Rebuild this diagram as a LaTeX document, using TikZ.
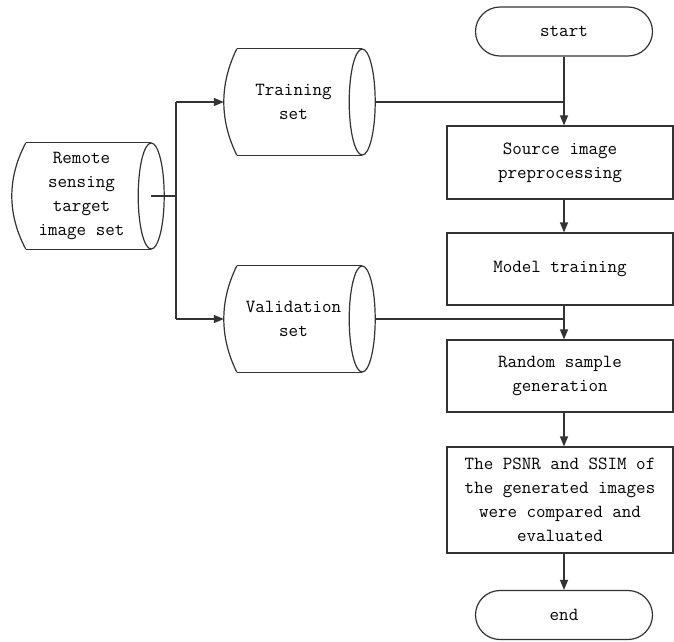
\documentclass[tikz,border=0pt]{standalone}
\usepackage{fontspec}
\usetikzlibrary{arrows.meta,calc}

\tikzset{
  line/.style={draw=black!80, line width=1.2pt},
  arrowline/.style={line, -{Triangle[length=10pt,width=8pt]}},
  stepbox/.style={line, rectangle, minimum width=226, minimum height=72,
    align=center, inner sep=0pt},
  terminal/.style={line, rectangle, rounded corners=24.5pt,
    minimum width=177, minimum height=49, inner sep=0pt},
  storebody/.style={rectangle, inner sep=0pt, minimum width=125, minimum height=106},
  labeltext/.style={align=center, inner sep=0pt},
}

% Direct-access storage symbol drawn around a rectangular body node
\newcommand\drawstorage[2]{% #1 node name, #2 bulge of the left side
  \draw[line] (#1.north west) -- (#1.north east);
  \draw[line] (#1.south west) -- (#1.south east);
  \draw[line] (#1.north west) .. controls ($(#1.north west)+(-#2*1.333,35.3)$)
    and ($(#1.south west)+(-#2*1.333,-35.3)$) .. (#1.south west);
  \draw[line] (#1.east) ellipse [x radius=13, y radius=53];
}

\begin{document}
\begin{tikzpicture}[x=1pt, y=-1pt,
  every node/.append style={font=\ttfamily\fontsize{18.5}{24}\selectfont, text=black}]
  \useasboundingbox[fill=white] (0,0) rectangle (674,641);

  % process column
  \node[terminal] (start) at (564,31.5) {start};
  \node[stepbox, minimum height=73] (prep) at (560,162.5) {Source image\\preprocessing};
  \node[stepbox] (train-model) at (560,269) {Model training};
  \node[stepbox] (sample) at (560,376) {Random sample\\generation};
  \node[stepbox, minimum height=106] (eval) at (560,500)
    {The PSNR and SSIM of\\the generated images\\were compared and\\evaluated};
  \node[terminal] (end) at (564,615) {end};

  % data sets
  \node[storebody] (remote) at (88.5,196) {};
  \node[labeltext] (remotelbl) at ($(remote.center)+(-7,0)$) {Remote\\sensing\\target\\image set};
  \node[storebody] (trainset) at (299.5,102) {};
  \node[labeltext] (trainlbl) at ($(trainset.center)+(-6,0)$) {Training\\set};
  \node[storebody] (validset) at (299.5,319) {};
  \node[labeltext] (validlbl) at ($(validset.center)+(-6,0)$) {Validation\\set};

  \drawstorage{remote}{14}
  \drawstorage{trainset}{13}
  \drawstorage{validset}{13}

  % junction points
  \coordinate (split) at (176,196);
  \coordinate (trainin) at ($(trainset.west)+(-13,0)$);
  \coordinate (validin) at ($(validset.west)+(-13,0)$);
  \coordinate (trainout) at ($(trainset.east)+(13,0)$);
  \coordinate (validout) at ($(validset.east)+(13,0)$);
  \coordinate (col) at (564,0);

  % main flow
  \draw[arrowline] (start.south) -- (start.south |- prep.north);
  \draw[arrowline] (col |- prep.south) -- (col |- train-model.north);
  \draw[arrowline] (col |- train-model.south) -- (col |- sample.north);
  \draw[arrowline] (col |- sample.south) -- (col |- eval.north);
  \draw[arrowline] (col |- eval.south) -- (col |- end.north);

  % data set feeds
  \draw[line] (trainout) -- (col |- trainout);
  \draw[line] (validout) -- (col |- validout);

  % splitting the image set
  \draw[line] (remote.east) -- (split);
  \draw[line] (split |- trainin) -- (split |- validin);
  \draw[arrowline] (split |- trainin) -- (trainin);
  \draw[arrowline] (split |- validin) -- (validin);
\end{tikzpicture}
\end{document}
